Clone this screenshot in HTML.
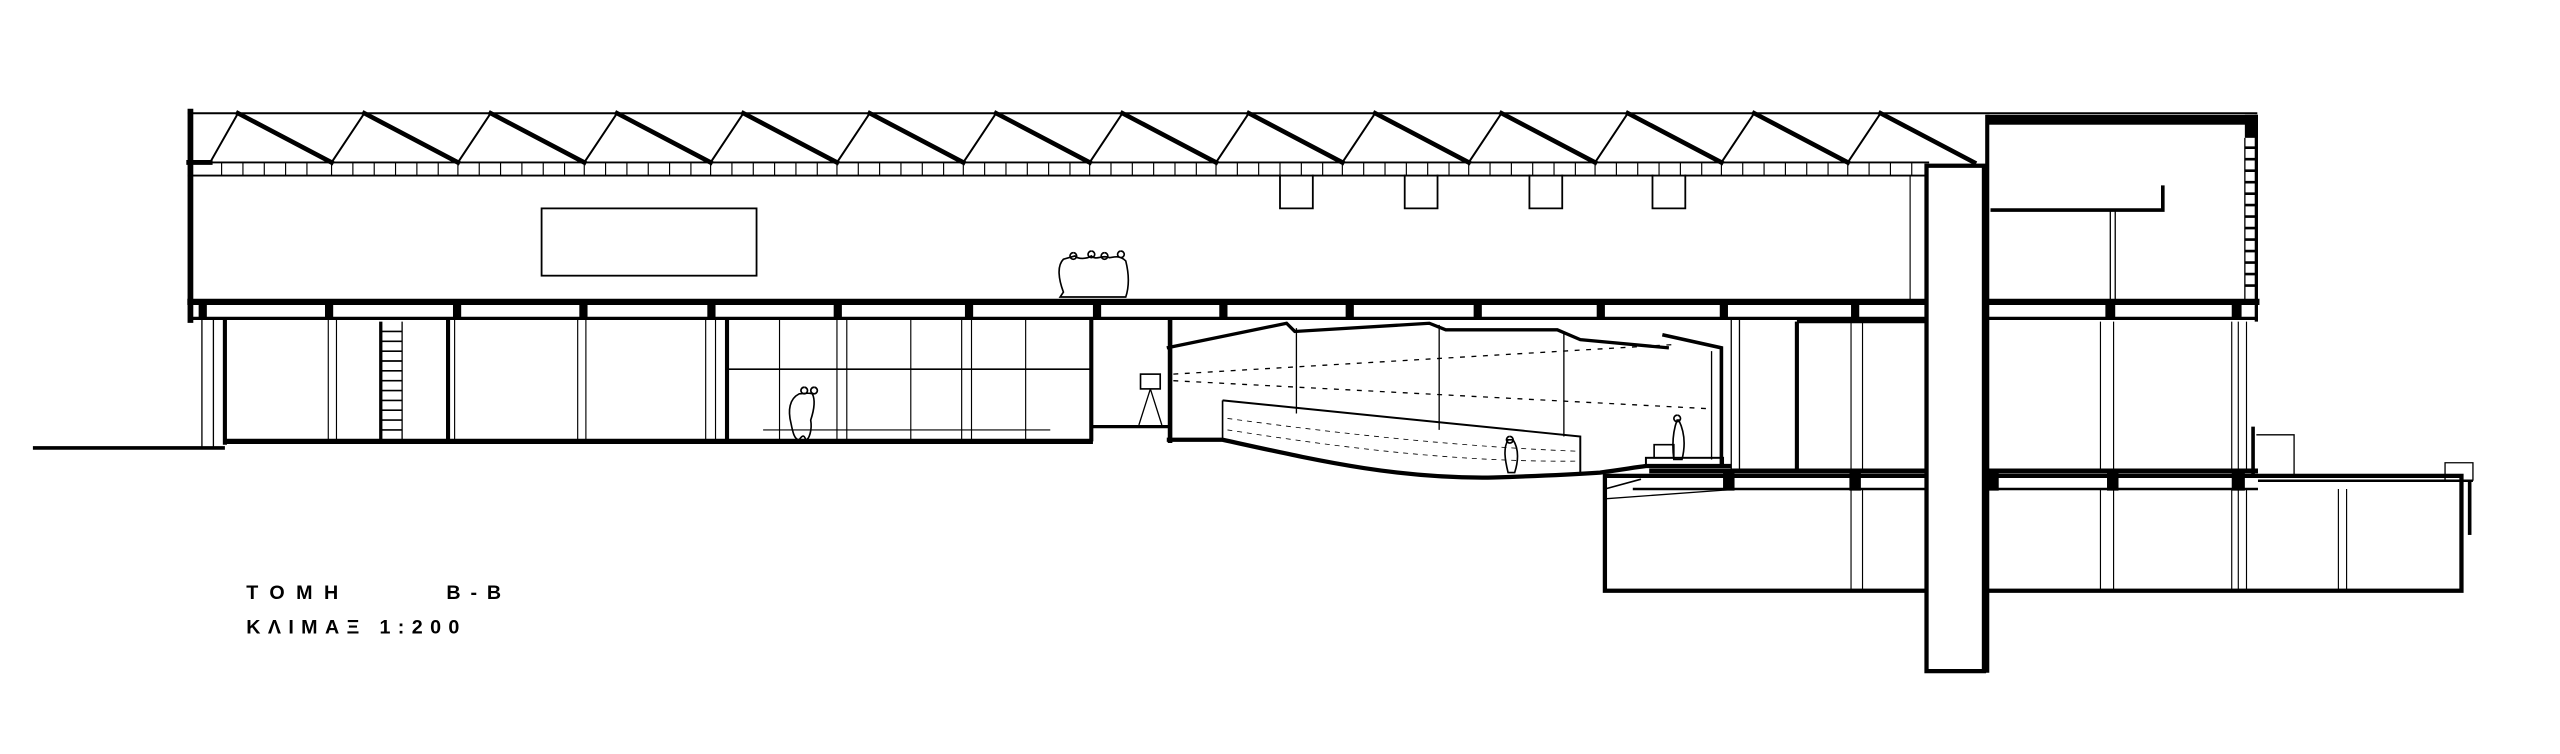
<!DOCTYPE html>
<html><head><meta charset="utf-8"><style>
html,body{margin:0;padding:0;background:#fff;}
svg{display:block;}
</style></head><body>
<svg width="2560" height="754" viewBox="0 0 1560 459.5" xmlns="http://www.w3.org/2000/svg">
<rect width="1560" height="459.5" fill="#fff"/>
<g stroke="#000" fill="none" stroke-linecap="square">
<line x1="115" y1="69" x2="1375" y2="69" stroke-width="1.2"/>
<line x1="115" y1="99" x2="1175" y2="99" stroke-width="1.2"/>
<line x1="115" y1="107" x2="1175" y2="107" stroke-width="1.2"/>
<line x1="115" y1="99" x2="128" y2="99" stroke-width="3"/>
<line x1="128" y1="99" x2="145" y2="69" stroke-width="1.2"/>
<g stroke-width="2.8">
<path d="M145 69 L202 99 M222 69 L279 99 M299 69 L356 99 M376 69 L433 99 M453 69 L510 99 M530 69 L587 99 M607 69 L664 99 M684 69 L741 99 M761 69 L818 99 M838 69 L895 99 M915 69 L972 99 M992 69 L1049 99 M1069 69 L1126 99 M1146 69 L1203 99"/>
</g>
<g stroke-width="1.2">
<path d="M202 99 L222 69 M279 99 L299 69 M356 99 L376 69 M433 99 L453 69 M510 99 L530 69 M587 99 L607 69 M664 99 L684 69 M741 99 L761 69 M818 99 L838 69 M895 99 L915 69 M972 99 L992 69 M1049 99 L1069 69 M1126 99 L1146 69"/>
</g>
<path stroke-width="0.7" d="M135 99V107M148 99V107M161 99V107M174 99V107M187 99V107M202 99V107M215 99V107M228 99V107M241 99V107M254 99V107M267 99V107M279 99V107M292 99V107M305 99V107M318 99V107M331 99V107M344 99V107M356 99V107M369 99V107M382 99V107M395 99V107M408 99V107M421 99V107M433 99V107M446 99V107M459 99V107M472 99V107M485 99V107M498 99V107M510 99V107M523 99V107M536 99V107M549 99V107M562 99V107M575 99V107M587 99V107M600 99V107M613 99V107M626 99V107M639 99V107M652 99V107M664 99V107M677 99V107M690 99V107M703 99V107M716 99V107M729 99V107M741 99V107M754 99V107M767 99V107M780 99V107M793 99V107M806 99V107M818 99V107M831 99V107M844 99V107M857 99V107M870 99V107M883 99V107M895 99V107M908 99V107M921 99V107M934 99V107M947 99V107M960 99V107M972 99V107M985 99V107M998 99V107M1011 99V107M1024 99V107M1037 99V107M1049 99V107M1062 99V107M1075 99V107M1088 99V107M1101 99V107M1114 99V107M1126 99V107M1139 99V107M1152 99V107M1165 99V107"/>
<line x1="116" y1="68" x2="116" y2="195" stroke-width="3.5"/>
<rect x="330" y="127" width="131" height="41" stroke-width="1.1"/>
<path stroke-width="1.1" d="M780 107V127H800V107M856 107V127H876V107M932 107V127H952V107M1007 107V127H1027V107"/>
<line x1="116" y1="184" x2="1375" y2="184" stroke-width="3.8"/>
<line x1="116" y1="194" x2="1375" y2="194" stroke-width="2"/>
</g>
<g fill="#000">
<rect x="121" y="185" width="5" height="9"/><rect x="198" y="185" width="5" height="9"/><rect x="276" y="185" width="5" height="9"/><rect x="353" y="185" width="5" height="9"/><rect x="431" y="185" width="5" height="9"/><rect x="508" y="185" width="5" height="9"/><rect x="588" y="185" width="5" height="9"/><rect x="666" y="185" width="5" height="9"/><rect x="743" y="185" width="5" height="9"/><rect x="820" y="185" width="5" height="9"/><rect x="898" y="185" width="5" height="9"/><rect x="973" y="185" width="5" height="9"/><rect x="1048" y="185" width="5" height="9"/><rect x="1128" y="185" width="5" height="9"/><rect x="1283" y="185" width="6" height="9"/><rect x="1360" y="185" width="6" height="9"/>
<rect x="1210" y="70" width="166" height="6"/>
<rect x="1368" y="70" width="8" height="14"/>
</g>
<g stroke="#000" fill="none">
<line x1="1211" y1="70" x2="1211" y2="410" stroke-width="2.5"/>
<path d="M1213 128H1318V113" stroke-width="2.2"/>
<line x1="1286" y1="128" x2="1286" y2="184" stroke-width="0.8"/>
<line x1="1289" y1="128" x2="1289" y2="184" stroke-width="0.8"/>
<line x1="1375" y1="70" x2="1375" y2="196" stroke-width="2"/>
<line x1="1368" y1="84" x2="1368" y2="184" stroke-width="0.8"/>
<path stroke-width="1.6" d="M1368 90H1375M1368 97H1375M1368 104H1375M1368 111H1375M1368 118H1375M1368 125H1375M1368 132H1375M1368 139H1375M1368 146H1375M1368 153H1375M1368 160H1375M1368 167H1375M1368 174H1375"/>
<line x1="1164" y1="107" x2="1164" y2="184" stroke-width="0.7"/>
<line x1="20" y1="273" x2="137" y2="273" stroke-width="2.2"/>
<line x1="123" y1="195" x2="123" y2="273" stroke-width="0.8"/>
<line x1="130" y1="195" x2="130" y2="273" stroke-width="0.8"/>
<line x1="137" y1="195" x2="137" y2="271" stroke-width="2.5"/>
<line x1="136" y1="269" x2="666" y2="269" stroke-width="3.2"/>
<line x1="232" y1="196" x2="232" y2="268" stroke-width="2"/>
<line x1="245" y1="196" x2="245" y2="268" stroke-width="0.8"/>
<path stroke-width="1" d="M232 202H245M232 208H245M232 214H245M232 220H245M232 226H245M232 232H245M232 238H245M232 244H245M232 250H245M232 256H245M232 262H245"/>
<line x1="273" y1="195" x2="273" y2="269" stroke-width="2.5"/>
<line x1="443" y1="195" x2="443" y2="269" stroke-width="2.5"/>
<line x1="665" y1="195" x2="665" y2="269" stroke-width="2.5"/>
<path stroke-width="0.7" d="M200 195V269M205 195V269M277 195V269M352 195V269M357 195V269M430 195V269M436 195V269M475 195V269M510 195V269M516 195V269M555 195V269M586 195V269M592 195V269M625 195V269"/>
<line x1="443" y1="225" x2="665" y2="225" stroke-width="1"/>
<line x1="465" y1="262" x2="640" y2="262" stroke-width="0.7"/>
<path stroke-width="1" d="M487 240c-6 3-7 10-5 18c1 5 2 10 5 10c2-3 3-3 4 0c2 0 4-6 3-12c2-6 3-12 1-16c-3-1-5 0-8 0zM490 236a2 2 0 1 0 .1 0M496 236a2 2 0 1 0 .1 0"/>
<path stroke-width="1" d="M648 158c-4 4-3 12 0 20l-2 3h40c2-6 2-14 0-22c-4-4-8-2-10-2c-4-2-8 2-11-1c-3 2-8 2-10 0zM654 154a2 2 0 1 0 .1 0M665 153a2 2 0 1 0 .1 0M673 154a2 2 0 1 0 .1 0M683 153a2 2 0 1 0 .1 0"/>
<line x1="665" y1="260" x2="713" y2="260" stroke-width="2"/>
<rect x="695" y="228" width="12" height="9" stroke-width="1"/>
<path d="M701 237L694 259M701 237L708 259" stroke-width="0.8"/>
<line x1="713" y1="195" x2="713" y2="270" stroke-width="2.8"/>
<path d="M711 212L784 197L789 202L871 197L881 201L949 201L963 207L1017 212" stroke-width="2"/>
<path d="M1013 204L1049 212V284" stroke-width="2.2"/>
<path d="M711 268H745C800 280 850 292 910 291C940 290 960 289 975 288C990 286 995 285 1003 284H1055" stroke-width="2.6"/>
<rect x="1003" y="279" width="47" height="5" stroke-width="1.2"/>
<path d="M745 244L963 266V288" stroke-width="1.2"/>
<line x1="745" y1="244" x2="745" y2="268" stroke-width="1"/>
<path d="M748 255C800 262 880 272 962 275M748 262C800 270 880 282 962 281" stroke-width="0.5" stroke-dasharray="3 3"/>
<path d="M715 228L1020 210M715 232L1040 249" stroke-width="0.8" stroke-dasharray="3 4"/>
<path stroke-width="0.8" d="M790 200V252M877 198V262M953 202V266M1043 214V280"/>
<path stroke-width="1" d="M919 268c-3 5-2 12 0 20h4c2-6 3-14-1-20zM920 266a2 2 0 1 0 .1 0M1022 256c-3 8-3 16-2 24h5c2-8 2-16-2-24zM1022 253a2 2 0 1 0 .1 0M1008 271h12v8h-12z"/>
<line x1="1055" y1="195" x2="1055" y2="288" stroke-width="0.8"/>
<line x1="1060" y1="195" x2="1060" y2="288" stroke-width="0.8"/>
<line x1="1095" y1="196" x2="1095" y2="287" stroke-width="2.5"/>
<line x1="1095" y1="196" x2="1174" y2="196" stroke-width="2"/>
<path stroke-width="0.7" d="M1128 196V287M1135 196V287M1280 196V287M1288 196V287M1360 196V287M1364 196V287M1369 196V287"/>
<line x1="1373" y1="260" x2="1373" y2="290" stroke-width="2.2"/>
<path d="M1375 265H1398V290" stroke-width="0.8"/>
<line x1="1005" y1="287" x2="1376" y2="287" stroke-width="3"/>
<line x1="995" y1="298" x2="1376" y2="298" stroke-width="1.5"/>
<path d="M978 298L1000 292" stroke-width="1"/>
<rect x="978" y="290" width="522" height="70" stroke-width="2.6" fill="none"/>
<path d="M978 304L1060 298" stroke-width="0.8"/>
<line x1="1376" y1="293" x2="1507" y2="293" stroke-width="1.5"/>
<path d="M1490 293V282H1507V293" stroke-width="0.8"/>
<line x1="1505" y1="293" x2="1505" y2="326" stroke-width="2.2"/>
<path stroke-width="0.7" d="M1128 298V360M1135 298V360M1280 298V360M1288 298V360M1360 298V360M1364 298V360M1369 298V360M1425 298V360M1430 298V360"/>
</g>
<g fill="#000">
<rect x="1050" y="288" width="7" height="11"/><rect x="1127" y="288" width="7" height="11"/><rect x="1211" y="288" width="7" height="11"/><rect x="1284" y="288" width="7" height="11"/><rect x="1360" y="288" width="8" height="11"/>
</g>
<rect x="1174" y="101" width="35" height="308" fill="#fff" stroke="#000" stroke-width="2.6"/>
<g font-family="Liberation Sans, sans-serif" font-size="12" font-weight="bold" fill="#000" letter-spacing="7">
<text x="150" y="365">ΤΟΜΗ</text>
<text x="272" y="365" letter-spacing="6">Β-Β</text>
<text x="150" y="386" letter-spacing="4.5">ΚΛΙΜΑΞ 1:200</text>
</g>
</svg>
</body></html>
